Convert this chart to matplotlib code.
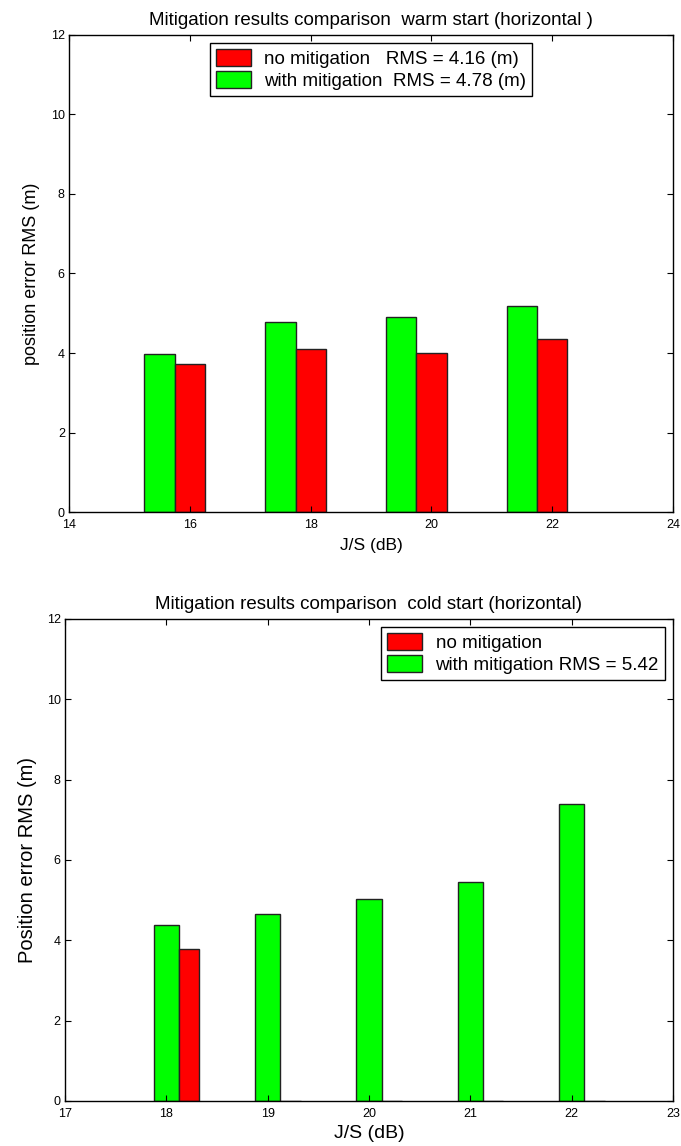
import numpy as np
import matplotlib
matplotlib.use("Agg")
import matplotlib.pyplot as plt

plt.rcParams['font.family'] = ['Liberation Sans', 'DejaVu Sans']

# warm start (top)
warm_js = [16, 18, 20, 22]
warm_no_mit = [3.73, 4.11, 4.01, 4.34]
warm_with_mit = [3.97, 4.77, 4.91, 5.18]

# cold start (bottom)
cold_js = [18, 19, 20, 21, 22]
cold_no_mit = [3.78, 0, 0, 0, 0]
cold_with_mit = [4.39, 4.65, 5.03, 5.44, 7.40]

red = "#ff0000"
green = "#00ff00"

fig = plt.figure(figsize=(6.81, 11.46), dpi=100)

def style_axes(ax):
    ax.tick_params(direction="in", top=True, right=True, length=4, width=0.8,
                   labelsize=9)
    ax.tick_params(axis="x", pad=5)
    ax.tick_params(axis="y", pad=3)
    for s in ax.spines.values():
        s.set_linewidth(1.0)

def make_legend(ax, labels, loc):
    h_red = plt.Rectangle((0, 0), 1, 1, facecolor=red, edgecolor="#222222")
    h_green = plt.Rectangle((0, 0), 1, 1, facecolor=green, edgecolor="#222222")
    leg = ax.legend([h_red, h_green], labels, loc=loc, fontsize=13.5,
                    fancybox=False, framealpha=1, edgecolor="black",
                    borderaxespad=0.45, handlelength=1.9, handleheight=1.05,
                    handletextpad=0.7, labelspacing=0.15, borderpad=0.3)
    leg.get_frame().set_linewidth(1.0)
    return leg

# ---- top chart ----
ax1 = fig.add_axes([0.1013, 0.5532, 0.887, 0.4163])
x = np.array(warm_js)
ax1.bar(x - 0.75, warm_with_mit, width=0.5, align="edge", color=green,
        edgecolor="#222222", linewidth=1.0)
ax1.bar(x - 0.25, warm_no_mit, width=0.5, align="edge", color=red,
        edgecolor="#222222", linewidth=1.0)
ax1.set_xlim(14, 24)
ax1.set_ylim(0, 12)
ax1.set_xticks([14, 16, 18, 20, 22, 24])
ax1.set_yticks([0, 2, 4, 6, 8, 10, 12])
style_axes(ax1)
ax1.set_title("Mitigation results comparison  warm start (horizontal )", fontsize=13.5, pad=7)
ax1.set_xlabel("J/S (dB)", fontsize=12.5, labelpad=5)
ax1.set_ylabel("position error RMS (m)", fontsize=13, labelpad=8)
make_legend(ax1, ["no mitigation   RMS = 4.16 (m)", "with mitigation  RMS = 4.78 (m)"],
            "upper center")

# ---- bottom chart ----
ax2 = fig.add_axes([0.0954, 0.0393, 0.8928, 0.4206])
x = np.array(cold_js)
ax2.bar(x - 0.125, cold_with_mit, width=0.25, align="edge", color=green,
        edgecolor="#222222", linewidth=1.0)
ax2.bar(x + 0.125, cold_no_mit, width=0.2, align="edge", color=red,
        edgecolor="#222222", linewidth=1.0)
ax2.set_xlim(17, 23)
ax2.set_ylim(0, 12)
ax2.set_xticks([17, 18, 19, 20, 21, 22, 23])
ax2.set_yticks([0, 2, 4, 6, 8, 10, 12])
style_axes(ax2)
ax2.set_title("Mitigation results comparison  cold start (horizontal)", fontsize=13.5, pad=7)
ax2.set_xlabel("J/S (dB)", fontsize=14, labelpad=4)
ax2.set_ylabel("Position error RMS (m)", fontsize=14.5, labelpad=7)
make_legend(ax2, ["no mitigation", "with mitigation RMS = 5.42"], "upper right")

fig.savefig("out.png", dpi=100)
